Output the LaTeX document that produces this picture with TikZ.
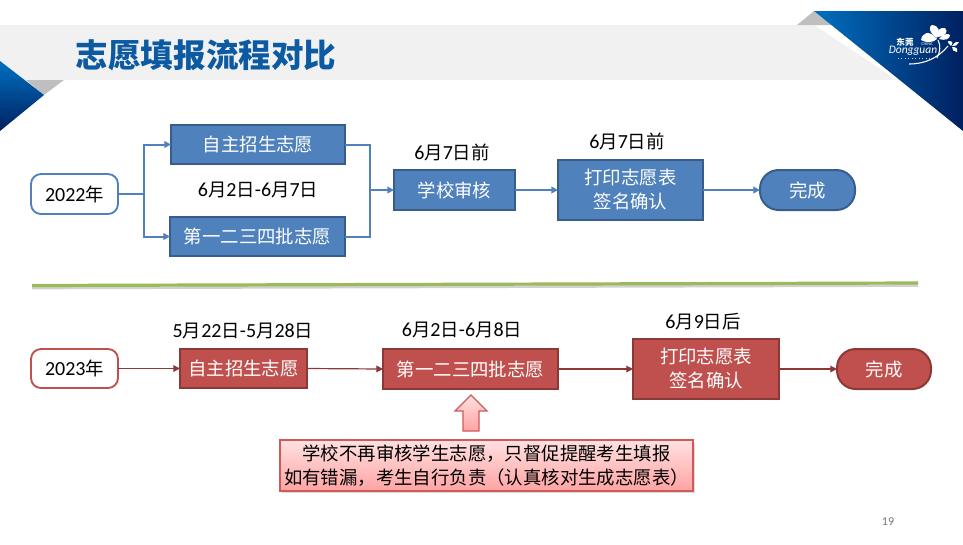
\documentclass[tikz,border=0pt]{standalone}
\usepackage{fontspec}
\setmainfont{Noto Sans CJK SC}
\newfontfamily\lat{Carlito}
\newcommand\dg[1]{{\lat\fontsize{15}{18}\selectfont #1}}
\usetikzlibrary{arrows.meta}
\definecolor{bfill}{HTML}{4F81BD}
\definecolor{bline}{HTML}{385D8A}
\definecolor{rfill}{HTML}{C0504D}
\definecolor{rline}{HTML}{8C3836}
\definecolor{band}{HTML}{F1F1F1}
\definecolor{tgrey}{HTML}{BFBFBF}
\definecolor{tblue}{HTML}{0070C0}
\definecolor{tnavy}{HTML}{002060}
\definecolor{titleblue}{HTML}{0B5AA2}
\definecolor{sepgreen}{HTML}{9BBB59}
\definecolor{pinkedge}{HTML}{D05A58}
\definecolor{pinktop}{HTML}{FFE1E1}
\definecolor{pinkbot}{HTML}{FFA3A3}
\tikzset{
 x=0.75pt,y=-0.75pt,
 every node/.style={font=\fontsize{13.8}{18}\selectfont,inner sep=0pt,outer sep=0pt,align=center},
 bluebox/.style={draw=bline,fill=bfill,text=white,line width=1.5pt},
 redbox/.style={draw=rline,fill=rfill,text=white,line width=1.5pt},
 blueround/.style={draw=bfill,fill=white,text=black,line width=1.4pt,rounded corners=7.5pt},
 redround/.style={draw=rfill,fill=white,text=black,line width=1.4pt,rounded corners=7.5pt},
 bluepill/.style={bluebox,rounded corners=14pt},
 redpill/.style={redbox,rounded corners=14pt},
 blueconn/.style={draw=bfill,line width=1.5pt},
 blueflow/.style={blueconn,-{Triangle[length=5pt,width=5pt]}},
 redflow/.style={draw=rline,line width=.9pt,-{Triangle[length=5pt,width=5pt]}},
 datelabel/.style={text=black},
 box/.style 2 args={minimum width=#1*0.75pt,minimum height=#2*0.75pt},
}
\begin{document}
\begin{tikzpicture}
\useasboundingbox (0,0) rectangle (963,544);
\fill[white] (0,0) rectangle (963,544);
% header decoration
\fill[band] (0,25) -- (814,25) -- (897,80) -- (0,80) -- cycle;
\fill[tgrey] (797,25) -- (814,11) -- (832,25) -- cycle;
\fill[tgrey] (26,80) -- (64,80) -- (44,95) -- cycle;
\path[left color=tblue,right color=tnavy] (814,11) -- (963,11) -- (963,131) -- cycle;
\path[top color=tblue,bottom color=tnavy] (0,61) -- (44,95) -- (0,131) -- cycle;
\node[font=\fontsize{24.4}{28}\selectfont\bfseries,text=titleblue,anchor=center] (title) at (206,55) {志愿填报流程对比};
% logo
\node[text=white,font=\fontsize{6.4}{7}\selectfont\bfseries] (logocn) at (905,42) {东莞};
\node[text=white,font=\lat\fontsize{3.2}{4}\selectfont] (logochina) at (927,44.5) {CHINA};
\node[text=white,font=\lat\itshape\fontsize{8.6}{9}\selectfont] (logoen) at (913,51) {Dongguan};
\draw[white!70!tblue,line width=.6pt,dotted] (898,58.5) -- (932,58.5);
\fill[white] (937,39) .. controls (929,29) and (922,33) .. (921,40) .. controls (926,43) and (933,43) .. (937,39);
\fill[white] (937,38) .. controls (928,32) and (929,26) .. (932,25) .. controls (939,26) and (941,31) .. (937,38);
\fill[white] (938,37) .. controls (937,30) and (940,27) .. (945,28) .. controls (949,32) and (945,36) .. (938,37);
\fill[white] (939,39) .. controls (942,34) and (948,33) .. (950,35) .. controls (950,39) and (945,41) .. (939,39);
\fill[white] (951,46) .. controls (947,42) and (947,41) .. (950,41) .. controls (953,42) and (953,43) .. (951,46);
\fill[white] (952,46) .. controls (955,42) and (957,41) .. (959,42) .. controls (958,45) and (956,46) .. (952,46);
\fill[white] (952,47) .. controls (956,47) and (958,48) .. (957,52) .. controls (954,52) and (952,50) .. (952,47);
\draw[white,line width=.8pt] (909,64) .. controls (925,64) and (938,58) .. (948,46);
\draw[white,line width=.8pt] (938,40) .. controls (941,46) and (940,52) .. (937,58);
% 2022 row
\node[blueround,box={87}{40}] (y22) at (74.5,194) {\dg{2022}年};
\node[bluebox,box={174}{39}] (a1) at (258,144.5) {自主招生志愿};
\node[bluebox,box={175}{39}] (a2) at (257.5,236.5) {第一二三四批志愿};
\node[datelabel] (d1) at (258,190) {\dg{6}月\dg{2}日\dg{-6}月\dg{7}日};
\node[bluebox,box={121}{40}] (a3) at (454.5,190) {学校审核};
\node[datelabel] (d2) at (452,152) {\dg{6}月\dg{7}日前};
\node[bluebox,box={145}{60}] (a4) at (630.5,190) {打印志愿表\\签名确认};
\node[datelabel] (d3) at (627,141) {\dg{6}月\dg{7}日前};
\node[bluepill,box={95}{40}] (a5) at (807.5,190) {完成};
\coordinate (j1) at (144,194);
\coordinate (j2) at (370,190);
\draw[blueconn] (y22.east) -- (j1);
\draw[blueflow] (j1) |- (a1.west);
\draw[blueflow] (j1) |- (a2.west);
\draw[blueconn] (a1.east) -| (j2);
\draw[blueconn] (a2.east) -| (j2);
\draw[blueflow] (j2) -- (a3.west);
\draw[blueflow] (a3.east) -- (a4.west);
\draw[blueflow] (a4.east) -- (a5.west);
% separator
\coordinate (s1) at (32,285.5);
\coordinate (s2) at (918,283);
\draw[black!18,line width=2pt] (32,288) -- (918,285.5);
\draw[sepgreen,line width=2.4pt] (s1) -- (s2);
% 2023 row
\node[redround,box={87}{39}] (y23) at (74.5,368.5) {\dg{2023}年};
\node[redbox,box={127}{39}] (b1) at (243.5,368.5) {自主招生志愿};
\node[datelabel] (e1) at (243,331) {\dg{5}月\dg{22}日\dg{-5}月\dg{28}日};
\node[redbox,box={175}{40}] (b2) at (470.5,369) {第一二三四批志愿};
\node[datelabel] (e2) at (462,330) {\dg{6}月\dg{2}日\dg{-6}月\dg{8}日};
\node[redbox,box={146}{60}] (b3) at (706,369) {打印志愿表\\签名确认};
\node[datelabel] (e3) at (703,322) {\dg{6}月\dg{9}日后};
\node[redpill,box={94}{40}] (b4) at (884,369) {完成};
\draw[redflow] (y23.east) -- (b1.west);
\draw[redflow] (b1.east) -- (b2.west);
\draw[redflow] (b2.east) -- (b3.west);
\draw[redflow] (b3.east) -- (b4.west);
% up arrow and note
\path[draw=pinkedge,line width=1pt,top color=pinktop,bottom color=pinkbot]
 (471,395) -- (487,411) -- (479,411) -- (479,431) -- (463,431) -- (463,411) -- (455,411) -- cycle;
\fill[black!15] (282,443) rectangle (695,493);
\node[draw=pinkedge,line width=.8pt,top color=pinktop,bottom color=pinkbot,text=black,box={413}{51}] (note) at (486.5,465.5) {学校不再审核学生志愿，只督促提醒考生填报\\如有错漏，考生自行负责（认真核对生成志愿表）};
\node[text=black!55,font=\lat\fontsize{9}{11}\selectfont] (page) at (888,522) {19};
\end{tikzpicture}
\end{document}
